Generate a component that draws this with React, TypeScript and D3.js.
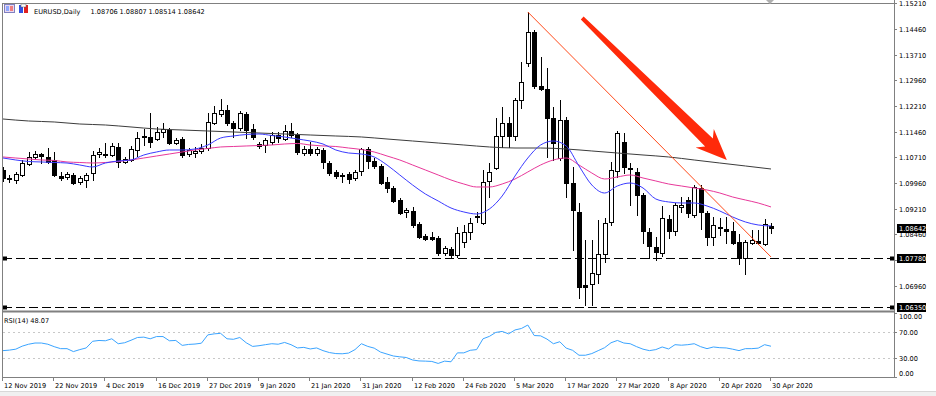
import React from 'react';
import * as d3 from 'd3';

const FONT = "'DejaVu Sans', Tahoma, sans-serif";
const FS = 6.6;

const symbolTitle = 'EURUSD,Daily';
const headerValues = ['1.08706', '1.08807', '1.08514', '1.08642'];

const dateLabels = [
  '12 Nov 2019', '22 Nov 2019', '4 Dec 2019', '16 Dec 2019', '27 Dec 2019', '9 Jan 2020',
  '21 Jan 2020', '31 Jan 2020', '12 Feb 2020', '24 Feb 2020', '5 Mar 2020', '17 Mar 2020',
  '27 Mar 2020', '8 Apr 2020', '20 Apr 2020', '30 Apr 2020',
];
const priceTicks = [1.1521, 1.1446, 1.1371, 1.1296, 1.1221, 1.1146, 1.1071, 1.0996, 1.0921, 1.0846, 1.0771, 1.0696];
const rsiTicks = [100, 70, 30, 0];
const rsiLevels = [70, 30];
const levelLines = [1.0778, 1.0635];
const lastPrice = 1.08642;

// daily OHLC, 12 Nov 2019 .. 30 Apr 2020
const opens = [
  1.10342, 1.10108, 1.10050, 1.10196, 1.10517, 1.10722, 1.10809, 1.10722, 1.10634, 1.10167,
  1.10138, 1.10196, 1.09992, 1.10050, 1.10254, 1.10809, 1.10809, 1.10780, 1.11014, 1.10576,
  1.10634, 1.10926, 1.11335, 1.11306, 1.11247, 1.11452, 1.11510, 1.11130, 1.11247, 1.10809,
  1.10838, 1.10897, 1.10984, 1.11714, 1.11977, 1.12094, 1.11714, 1.11568, 1.11977, 1.11539,
  1.11101, 1.11072, 1.11160, 1.11364, 1.11247, 1.11481, 1.11364, 1.10838, 1.10955, 1.10838,
  1.10926, 1.10546, 1.10284, 1.10196, 1.10225, 1.10108, 1.10313, 1.10955, 1.10605, 1.10459,
  1.09992, 1.09816, 1.09466, 1.09116, 1.09145, 1.08765, 1.08415, 1.08386, 1.08356, 1.07918,
  1.08035, 1.07860, 1.08240, 1.08532, 1.08970, 1.08794, 1.10021, 1.10400, 1.11335, 1.11714,
  1.11335, 1.12386, 1.13466, 1.14372, 1.12794, 1.12707, 1.11860, 1.10692, 1.11802, 1.09962,
  1.09116, 1.06984, 1.07013, 1.07305, 1.07889, 1.08824, 1.10313, 1.11160, 1.10400, 1.10284,
  1.09612, 1.08532, 1.08094, 1.07918, 1.08911, 1.08561, 1.09262, 1.09466, 1.09028, 1.09816,
  1.09086, 1.08386, 1.08648, 1.08619, 1.08561, 1.08240, 1.07772, 1.08210, 1.08269, 1.08181,
  1.08706,
];
const highs = [
  1.10430, 1.10196, 1.10284, 1.10634, 1.10868, 1.10897, 1.10838, 1.10984, 1.10868, 1.10284,
  1.10284, 1.10254, 1.10167, 1.10254, 1.10897, 1.10984, 1.11130, 1.11130, 1.11130, 1.10722,
  1.11043, 1.11452, 1.11539, 1.12006, 1.11598, 1.11714, 1.11568, 1.11276, 1.11306, 1.10984,
  1.11014, 1.11101, 1.12006, 1.12211, 1.12415, 1.12240, 1.11773, 1.12065, 1.12036, 1.11685,
  1.11160, 1.11276, 1.11452, 1.11452, 1.11656, 1.11714, 1.11422, 1.11043, 1.11160, 1.11014,
  1.10984, 1.10605, 1.10342, 1.10254, 1.10284, 1.10342, 1.10984, 1.11014, 1.10692, 1.10517,
  1.10138, 1.09875, 1.09524, 1.09232, 1.09262, 1.08824, 1.08473, 1.08532, 1.08415, 1.08123,
  1.08094, 1.08678, 1.08736, 1.08940, 1.09116, 1.10342, 1.10546, 1.11860, 1.12182, 1.11890,
  1.12444, 1.13496, 1.14956, 1.14430, 1.13642, 1.13320, 1.12182, 1.12386, 1.11890, 1.10430,
  1.09378, 1.08298, 1.08298, 1.08882, 1.08940, 1.10576, 1.11481, 1.11422, 1.10546, 1.10400,
  1.09670, 1.08648, 1.08386, 1.09291, 1.09028, 1.09378, 1.09554, 1.09554, 1.09904, 1.09904,
  1.09145, 1.08970, 1.08940, 1.08970, 1.08824, 1.08473, 1.08298, 1.08590, 1.08590, 1.08911,
  1.08807,
];
const lows = [
  1.10021, 1.09992, 1.09962, 1.10167, 1.10488, 1.10663, 1.10546, 1.10546, 1.10167, 1.10050,
  1.10079, 1.09933, 1.09933, 1.09846, 1.10050, 1.10722, 1.10722, 1.10751, 1.10430, 1.10546,
  1.10605, 1.10751, 1.11072, 1.11014, 1.11218, 1.11306, 1.11101, 1.11101, 1.10722, 1.10751,
  1.10722, 1.10838, 1.10926, 1.11685, 1.11919, 1.11656, 1.11306, 1.11510, 1.11276, 1.11247,
  1.10984, 1.10868, 1.11101, 1.11160, 1.11218, 1.11306, 1.10809, 1.10780, 1.10780, 1.10780,
  1.10400, 1.10196, 1.10108, 1.09992, 1.09962, 1.10050, 1.10196, 1.10400, 1.10400, 1.09933,
  1.09700, 1.09408, 1.09057, 1.08970, 1.08678, 1.08356, 1.08298, 1.08298, 1.07860, 1.07860,
  1.07802, 1.07802, 1.08094, 1.08327, 1.08824, 1.08765, 1.09554, 1.10371, 1.11014, 1.11014,
  1.11218, 1.12152, 1.13379, 1.12736, 1.12678, 1.10722, 1.10634, 1.10634, 1.09554, 1.08006,
  1.06604, 1.06400, 1.06400, 1.07042, 1.07656, 1.08736, 1.10138, 1.10254, 1.09320, 1.09028,
  1.08210, 1.07772, 1.07714, 1.07831, 1.08356, 1.08444, 1.09116, 1.08970, 1.08970, 1.08619,
  1.08152, 1.08152, 1.08444, 1.08210, 1.08181, 1.07597, 1.07305, 1.08181, 1.08181, 1.08152,
  1.08514,
];
const closes = [
  1.10108, 1.10079, 1.10225, 1.10546, 1.10722, 1.10809, 1.10751, 1.10576, 1.10196, 1.10108,
  1.10225, 1.09962, 1.10108, 1.10196, 1.10780, 1.10868, 1.10780, 1.11043, 1.10576, 1.10663,
  1.10955, 1.11276, 1.11306, 1.11160, 1.11452, 1.11539, 1.11130, 1.11218, 1.10780, 1.10926,
  1.10897, 1.10984, 1.11744, 1.12006, 1.12094, 1.11714, 1.11568, 1.12006, 1.11510, 1.11306,
  1.11043, 1.11218, 1.11364, 1.11276, 1.11481, 1.11364, 1.10868, 1.10955, 1.10838, 1.10955,
  1.10576, 1.10254, 1.10167, 1.10167, 1.10079, 1.10284, 1.10955, 1.10605, 1.10459, 1.09962,
  1.09816, 1.09437, 1.09086, 1.09174, 1.08736, 1.08386, 1.08327, 1.08327, 1.07918, 1.08064,
  1.07860, 1.08502, 1.08532, 1.08794, 1.08999, 1.09992, 1.10284, 1.11335, 1.11714, 1.11335,
  1.12386, 1.12912, 1.14372, 1.12794, 1.12707, 1.11860, 1.11130, 1.11802, 1.09962, 1.09174,
  1.06926, 1.06926, 1.07334, 1.07889, 1.08794, 1.10342, 1.11422, 1.10430, 1.10371, 1.09612,
  1.08561, 1.08123, 1.07948, 1.08940, 1.08561, 1.09320, 1.09320, 1.09086, 1.09846, 1.09116,
  1.08386, 1.08736, 1.08678, 1.08561, 1.08210, 1.07772, 1.08240, 1.08298, 1.08210, 1.08765,
  1.08642,
];

// moving averages read every 2nd bar (fast, mid) and every 4th bar (slow)
const maFast = [
  1.10692, 1.10634, 1.10590, 1.10576, 1.10561, 1.10546, 1.10488, 1.10430, 1.10546, 1.10605,
  1.10634, 1.10780, 1.10868, 1.10926, 1.10926, 1.10955, 1.11072, 1.11276, 1.11335, 1.11378,
  1.11393, 1.11349, 1.11306, 1.11247, 1.11189, 1.11101, 1.10926, 1.10838, 1.10809, 1.10722,
  1.10488, 1.10196, 1.09904, 1.09641, 1.09437, 1.09232, 1.09116, 1.09057, 1.09203, 1.09583,
  1.10167, 1.10692, 1.11072, 1.11189, 1.11043, 1.10459, 1.09904, 1.09670, 1.09875, 1.09962,
  1.09816, 1.09495, 1.09408, 1.09378, 1.09378, 1.09291, 1.09145, 1.08970, 1.08824, 1.08736,
  1.08707,
];
const maMid = [
  1.10722, 1.10692, 1.10663, 1.10634, 1.10620, 1.10576, 1.10561, 1.10546, 1.10561, 1.10590,
  1.10634, 1.10692, 1.10751, 1.10809, 1.10868, 1.10926, 1.10970, 1.11014, 1.11028, 1.11043,
  1.11057, 1.11072, 1.11101, 1.11116, 1.11072, 1.11043, 1.11028, 1.10984, 1.10940, 1.10868,
  1.10751, 1.10634, 1.10488, 1.10342, 1.10196, 1.10050, 1.09933, 1.09846, 1.09846, 1.09933,
  1.10079, 1.10284, 1.10488, 1.10634, 1.10692, 1.10488, 1.10254, 1.10079, 1.10138, 1.10196,
  1.10108, 1.10021, 1.09933, 1.09875, 1.09816, 1.09758, 1.09670, 1.09554, 1.09466, 1.09378,
  1.09262,
];
const maSlow = [
  1.11831, 1.11773, 1.11744, 1.11685, 1.11656, 1.11598, 1.11539, 1.11510, 1.11481, 1.11452,
  1.11422, 1.11393, 1.11364, 1.11335, 1.11306, 1.11247, 1.11189, 1.11130, 1.11072, 1.11014,
  1.10984, 1.10984, 1.10955, 1.10897, 1.10838, 1.10780, 1.10722, 1.10634, 1.10546, 1.10459,
  1.10371,
];

const rsi = [
  41.2, 42.0, 43.5, 48.2, 51.2, 53.1, 53.1, 51.2, 47.4, 44.3,
  44.3, 39.7, 42.8, 45.4, 55.8, 57.1, 56.6, 59.7, 52.0, 53.5,
  57.4, 61.7, 62.3, 59.7, 63.2, 63.2, 56.6, 57.1, 49.4, 50.9,
  51.5, 52.8, 65.8, 67.4, 68.2, 59.7, 58.9, 61.7, 53.5, 47.8,
  48.9, 50.5, 52.0, 51.2, 54.0, 50.5, 45.4, 46.3, 43.8, 45.4,
  41.2, 38.2, 36.6, 36.3, 37.4, 42.8, 52.0, 47.8, 45.1, 38.9,
  35.8, 32.8, 31.5, 30.5, 26.6, 25.1, 24.8, 24.3, 21.2, 24.8,
  23.8, 37.7, 37.7, 41.7, 42.8, 59.7, 63.5, 69.7, 71.2, 67.4,
  73.5, 75.8, 81.2, 64.8, 64.3, 59.2, 52.0, 55.1, 45.1, 41.7,
  34.0, 34.0, 36.6, 41.2, 45.8, 53.5, 57.1, 53.1, 52.0, 47.4,
  43.5, 41.2, 42.8, 46.9, 43.8, 50.5, 49.7, 50.5, 52.0, 47.4,
  44.3, 46.9, 45.8, 45.4, 43.5, 41.2, 44.3, 44.3, 45.1, 50.5,
  48.07,
];

// drawn objects: trend line and arrow (bar index, price)
const trendFrom = [82, 1.14956];
const trendTo = [120, 1.07802];
const arrowFrom = [90.5, 1.1478];
const arrowTo = [113.1, 1.10634];

export default function App() {
  const W = 936, H = 396;
  const left = 3, right = 894;
  const mainTop = 3, mainBottom = 310;
  const rsiTop = 313, rsiBottom = 377;

  const x = d3.scaleLinear().domain([0, 120]).range([3, 771]);
  const y = d3.scaleLinear().domain([1.06253, 1.1521]).range([mainBottom, 3.3]);
  const yr = d3.scaleLinear().domain([0, 100]).range([rsiBottom, rsiTop]);

  const px = (i: number) => Math.round(x(i));

  const lineFast = d3.line<number>().x((_, k) => x(k * 2)).y(d => y(d)).curve(d3.curveMonotoneX);
  const lineSlow = d3.line<number>().x((_, k) => x(k * 4)).y(d => y(d)).curve(d3.curveMonotoneX);
  const lineRsi = d3.line<number>().x((_, k) => x(k)).y(d => yr(d));

  // arrow polygon in pixel space
  const ax0 = x(arrowFrom[0]), ay0 = y(arrowFrom[1]);
  const ax1 = x(arrowTo[0]), ay1 = y(arrowTo[1]);
  const len = Math.hypot(ax1 - ax0, ay1 - ay0);
  const ux = (ax1 - ax0) / len, uy = (ay1 - ay0) / len;
  const nx = -uy, ny = ux;
  const pt = (t: number, w: number) => `${ax0 + ux * t + nx * w},${ay0 + uy * t + ny * w}`;
  const arrowPts = [
    pt(0, -2), pt(len - 25, -5.5), pt(len - 31, -13), pt(len, 0),
    pt(len - 31, 13), pt(len - 25, 5.5), pt(0, 2),
  ].join(' ');

  const textStyle = { fontFamily: FONT, fontSize: FS };
  const boxed = [...levelLines, lastPrice].map(v => Math.round(y(v)));

  return (
    <svg width={W} height={H} style={{ position: 'absolute', left: 0, top: 0, background: '#fff' }}>
      <defs>
        <clipPath id="mainClip">
          <rect x={left} y={mainTop} width={right - left} height={mainBottom - mainTop} />
        </clipPath>
        <clipPath id="rsiClip">
          <rect x={left} y={rsiTop} width={right - left} height={rsiBottom - rsiTop} />
        </clipPath>
      </defs>

      {/* window bottom */}
      <rect x={0} y={391} width={W} height={H - 391} fill="#f0f0f0" />
      <line x1={0} x2={W} y1={391.5} y2={391.5} stroke="#d8d8d8" />

      {/* main panel */}
      <g clipPath="url(#mainClip)">
        {levelLines.map(v => (
          <line key={v} x1={left} x2={right} y1={Math.round(y(v)) + 0.5} y2={Math.round(y(v)) + 0.5}
            stroke="#000" strokeDasharray="9 4" />
        ))}

        {opens.map((o, i) => {
          const c = closes[i];
          const cx = px(i);
          const bull = c >= o;
          const top = Math.round(y(Math.max(o, c)));
          const bot = Math.round(y(Math.min(o, c)));
          return (
            <g key={i}>
              <line x1={cx + 0.5} x2={cx + 0.5} y1={Math.round(y(highs[i]))} y2={Math.round(y(lows[i])) + 1} stroke="#000" />
              {bull ? (
                <rect x={cx - 1.5} y={top + 0.5} width={4} height={Math.max(bot - top, 1)} fill="#fff" stroke="#000" />
              ) : (
                <rect x={cx - 2} y={top} width={5} height={Math.max(bot - top + 1, 1)} fill="#000" />
              )}
            </g>
          );
        })}

        <path d={lineSlow(maSlow) || ''} fill="none" stroke="#3c3c3c" strokeWidth={1} />
        <path d={lineFast(maMid) || ''} fill="none" stroke="#e8389a" strokeWidth={1} />
        <path d={lineFast(maFast) || ''} fill="none" stroke="#3a3aff" strokeWidth={1} />

        <line x1={x(trendFrom[0])} y1={y(trendFrom[1])} x2={x(trendTo[0])} y2={y(trendTo[1])}
          stroke="#ff4a1a" strokeWidth={1} />
        <polygon points={arrowPts} fill="#ff2a0a" />

        {levelLines.map(v => (
          <g key={'m' + v}>
            <rect x={left} y={Math.round(y(v)) - 1.5} width={4} height={4} fill="#000" />
            <rect x={right - 4} y={Math.round(y(v)) - 1.5} width={4} height={4} fill="#000" />
          </g>
        ))}
      </g>

      {/* header */}
      <rect x={4.5} y={4.5} width={10} height={8} fill="#e8d8f0" stroke="#8080c0" />
      <rect x={6} y={6} width={3} height={5} fill="#8fa8ff" />
      <rect x={10} y={6} width={3} height={5} fill="#f08080" />
      <rect x={19} y={5} width={4} height={8} fill="#3050e0" />
      <rect x={24} y={5} width={4} height={8} fill="#e02020" />
      <rect x={21} y={4} width={5} height={3} fill="#fff" stroke="#606060" strokeWidth={0.5} />
      <text x={34} y={14} {...textStyle} fill="#000">{symbolTitle}</text>
      {headerValues.map((v, k) => (
        <text key={v + k} x={90.5 + k * 29} y={14} {...textStyle} fill="#000">{v}</text>
      ))}

      {/* rsi panel */}
      <g clipPath="url(#rsiClip)">
        {rsiLevels.map(v => (
          <line key={v} x1={left} x2={right} y1={Math.round(yr(v)) + 0.5} y2={Math.round(yr(v)) + 0.5}
            stroke="#c8c8c8" strokeDasharray="2 3" />
        ))}
        <path d={lineRsi(rsi) || ''} fill="none" stroke="#3aa4ff" strokeWidth={1} />
      </g>
      <text x={4} y={323} {...textStyle} fill="#000">{`RSI(14) ${rsi[rsi.length - 1].toFixed(2)}`}</text>

      {/* frames */}
      <line x1={left} x2={right} y1={3.5} y2={3.5} stroke="#808080" />
      <line x1={left} x2={right} y1={311.5} y2={311.5} stroke="#808080" strokeWidth={2} />
      <line x1={left} x2={right} y1={rsiBottom + 0.5} y2={rsiBottom + 0.5} stroke="#808080" />
      <line x1={left - 0.5} x2={left - 0.5} y1={3} y2={rsiBottom + 1} stroke="#808080" />
      <line x1={right + 0.5} x2={right + 0.5} y1={0} y2={rsiBottom + 1} stroke="#808080" />
      <polygon points="766,0 774,0 770,4" fill="#b0b0b0" />

      {/* price axis */}
      {priceTicks.map(v => {
        const yy = Math.round(y(v));
        const hidden = boxed.some(b => Math.abs(b - yy) < 5);
        return (
          <g key={v}>
            <line x1={right} x2={right + 3} y1={yy + 0.5} y2={yy + 0.5} stroke="#808080" />
            {!hidden && <text x={right + 5} y={yy + 2.5} {...textStyle} fill="#000">{v.toFixed(5)}</text>}
          </g>
        );
      })}
      {[...levelLines, lastPrice].map(v => {
        const yy = Math.round(y(v));
        return (
          <g key={'b' + v}>
            <rect x={right + 3} y={yy - 4} width={29} height={9} fill="#000" />
            <text x={right + 5} y={yy + 2.5} {...textStyle} fill="#fff">{v.toFixed(5)}</text>
          </g>
        );
      })}

      {/* rsi axis */}
      {rsiTicks.map(v => {
        const yy = Math.round(yr(v));
        const ty = Math.min(Math.max(yy, rsiTop + 3), rsiBottom - 4);
        return (
          <g key={v}>
            <line x1={right} x2={right + 3} y1={yy + 0.5} y2={yy + 0.5} stroke="#808080" />
            <text x={right + 5} y={ty + 2.5} {...textStyle} fill="#000">{v.toFixed(2)}</text>
          </g>
        );
      })}

      {/* time axis */}
      {dateLabels.map((d, k) => {
        const xx = px(k * 8);
        return (
          <g key={d}>
            <line x1={xx - 0.5} x2={xx - 0.5} y1={rsiBottom} y2={rsiBottom + 4} stroke="#808080" />
            <text x={xx + 1} y={388} {...textStyle} fill="#000">{d}</text>
          </g>
        );
      })}
    </svg>
  );
}
